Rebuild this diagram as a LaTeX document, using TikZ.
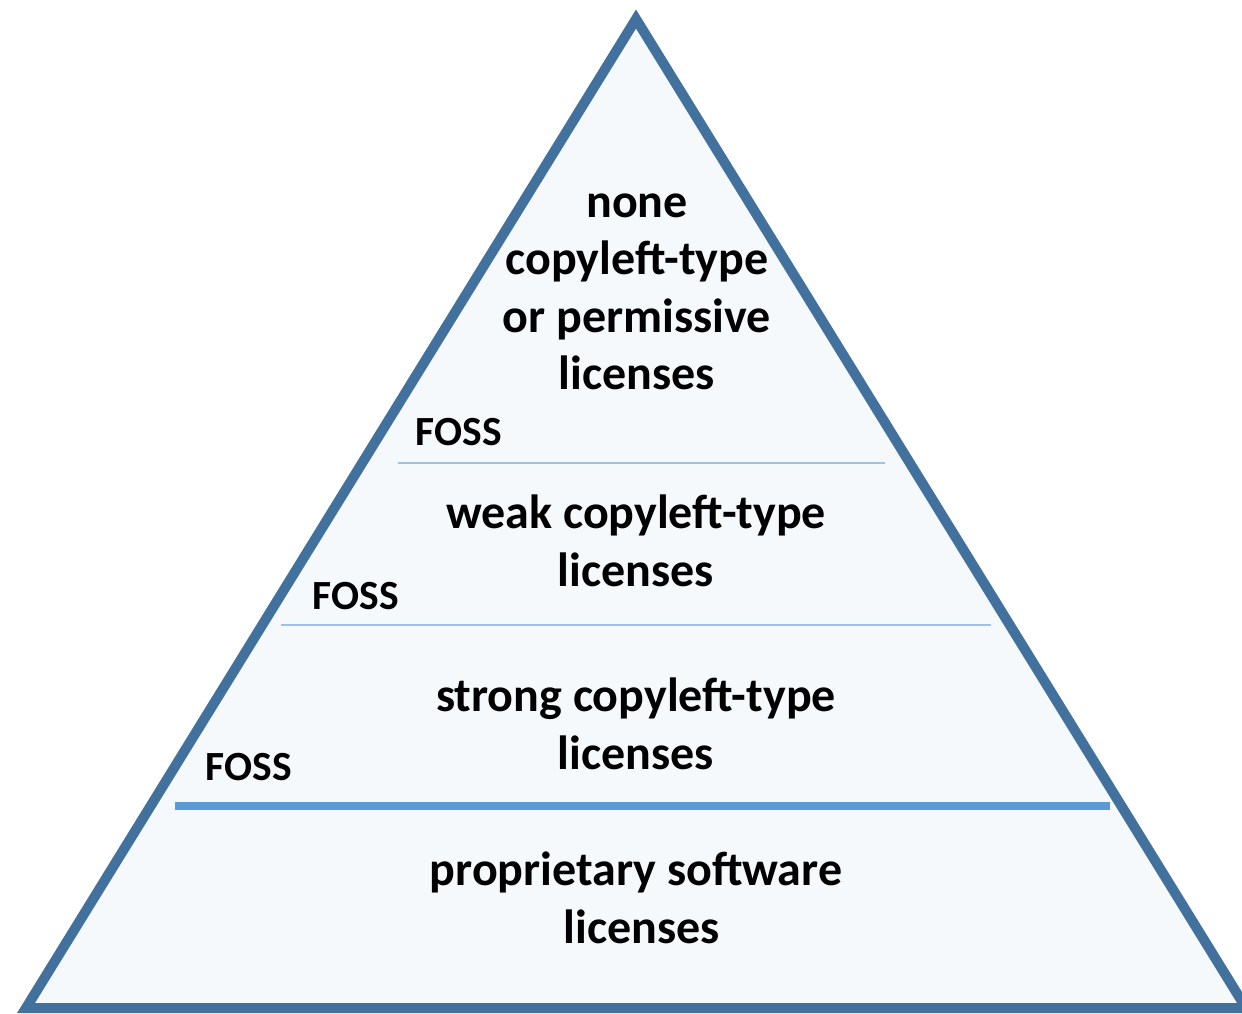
\documentclass[tikz,border=0pt]{standalone}
\usepackage{fontspec}
\setmainfont{Carlito}
\definecolor{edgeblue}{HTML}{41719C}
\definecolor{fillblue}{HTML}{F5F9FC}
\definecolor{thinblue}{HTML}{9DC3E6}
\definecolor{thickblue}{HTML}{5B9BD5}
\tikzset{
  maintext/.style={align=center, font=\fontsize{48}{57.5}\selectfont\bfseries, inner sep=0pt},
  fosstext/.style={font=\fontsize{41.5}{44}\selectfont\bfseries, inner sep=0pt},
  thinsep/.style={draw=thinblue, line width=1.6pt},
  thicksep/.style={draw=thickblue, line width=7.5pt}
}
\begin{document}
\begin{tikzpicture}[x=1pt,y=-1pt]
\useasboundingbox (0,0) rectangle (1242,1014);
\coordinate (apex) at (636,19);
\coordinate (bl) at (26,1008);
\coordinate (br) at (1246,1008);
\draw[draw=edgeblue, fill=fillblue, line width=10pt, line join=miter] (apex) -- (bl) -- (br) -- cycle;
\coordinate (s1a) at (398,463);
\coordinate (s1b) at (885,463);
\coordinate (s2a) at (281,625);
\coordinate (s2b) at (991,625);
\coordinate (s3a) at (175,806);
\coordinate (s3b) at (1110,806);
\draw[thinsep] (s1a) -- (s1b);
\draw[thinsep] (s2a) -- (s2b);
\draw[thicksep] (s3a) -- (s3b);
\node[maintext, anchor=center] (t1) at (637,292) {none\\copyleft-type\\or permissive\\licenses};
\node[maintext, anchor=center] (t2) at (636,541) {weak copyleft-type\\licenses};
\node[maintext, anchor=center] (t3) at (636,724) {strong copyleft-type\\licenses};
\node[maintext, anchor=center] (t4) at (636,898) {proprietary software\\\hspace*{11pt}licenses};
\node[fosstext] (f1) at (459,432) {FOSS};
\node[fosstext] (f2) at (356,596) {FOSS};
\node[fosstext] (f3) at (249,767) {FOSS};
\end{tikzpicture}
\end{document}
